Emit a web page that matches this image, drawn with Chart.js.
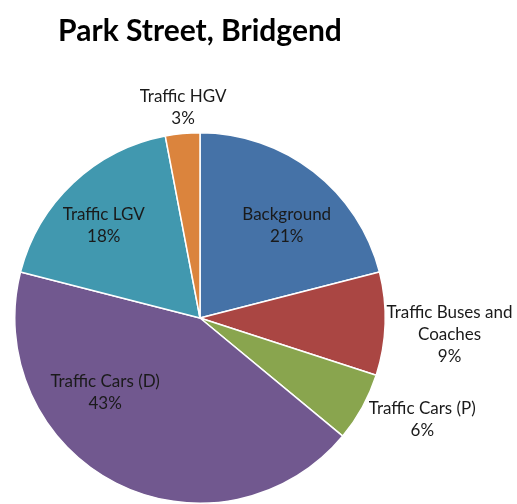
<!DOCTYPE html>
<html lang="en">
  <head>
    <meta charset="UTF-8" />
    <title>Park Street, Bridgend</title>
    <style>
      body {
        margin: 0;
        background-color: #ffffff;
      }
      .chart-container {
        width: 517px;
        height: 504px;
      }
    </style>
  </head>
  <body>
    <div class="chart-container">
      <canvas id="pieChart"></canvas>
    </div>
    <script src="https://cdn.jsdelivr.net/npm/chart.js"></script>
    <script>
      const categories = [
        "Background",
        "Traffic Buses and Coaches",
        "Traffic Cars (P)",
        "Traffic Cars (D)",
        "Traffic LGV",
        "Traffic HGV",
      ];
      const shares = [21, 9, 6, 43, 18, 3];
      // label text split the way it wraps in the picture
      const labelLines = [
        ["Background"],
        ["Traffic Buses and", "Coaches"],
        ["Traffic Cars (P)"],
        ["Traffic Cars (D)"],
        ["Traffic LGV"],
        ["Traffic HGV"],
      ];

      const colors = ["#4572A7", "#AA4643", "#89A54E", "#71588F", "#4198AF", "#DB843D"];
      // where each label sits: fraction of radius, and nudge in degrees
      const labelRadius = [0.685, 1.35, 1.32, 0.65, 0.72, 1.14];
      const labelNudge = [5.3, 1.9, -4.2, 25, -3, 0.8];

      const FONT = "Lato, 'Open Sans', sans-serif";

      const sliceLabels = {
        id: "sliceLabels",
        afterDatasetsDraw(chart) {
          const ctx = chart.ctx;
          const meta = chart.getDatasetMeta(0);
          ctx.save();
          ctx.fillStyle = "#1a1a1a";
          ctx.font = "17px " + FONT;
          ctx.textAlign = "center";
          ctx.textBaseline = "middle";
          meta.data.forEach((arc, i) => {
            const mid = (arc.startAngle + arc.endAngle) / 2 + (labelNudge[i] * Math.PI) / 180;
            const r = arc.outerRadius * labelRadius[i];
            const x = arc.x + Math.cos(mid) * r;
            const y = arc.y + Math.sin(mid) * r;
            const lines = labelLines[i].concat([shares[i] + "%"]);
            const lh = 22;
            const top = y - ((lines.length - 1) * lh) / 2;
            lines.forEach((t, j) => ctx.fillText(t, x, top + j * lh));
          });
          ctx.restore();
        },
      };

      new Chart(document.getElementById("pieChart"), {
        type: "pie",
        data: {
          labels: categories,
          datasets: [
            {
              data: shares,
              backgroundColor: colors,
              borderColor: "#ffffff",
              borderWidth: 1.5,
            },
          ],
        },
        options: {
          responsive: true,
          maintainAspectRatio: false,
          animation: false,
          layout: { padding: { left: 14, right: 131, top: 0, bottom: 0 } },
          plugins: {
            legend: { display: false },
            tooltip: { enabled: false },
            title: {
              display: true,
              text: "Park Street, Bridgend",
              color: "#000000",
              font: { family: FONT, size: 30, weight: "bold" },
              padding: { top: 13, bottom: 83 },
            },
          },
        },
        plugins: [sliceLabels],
      });
    </script>
  </body>
</html>
